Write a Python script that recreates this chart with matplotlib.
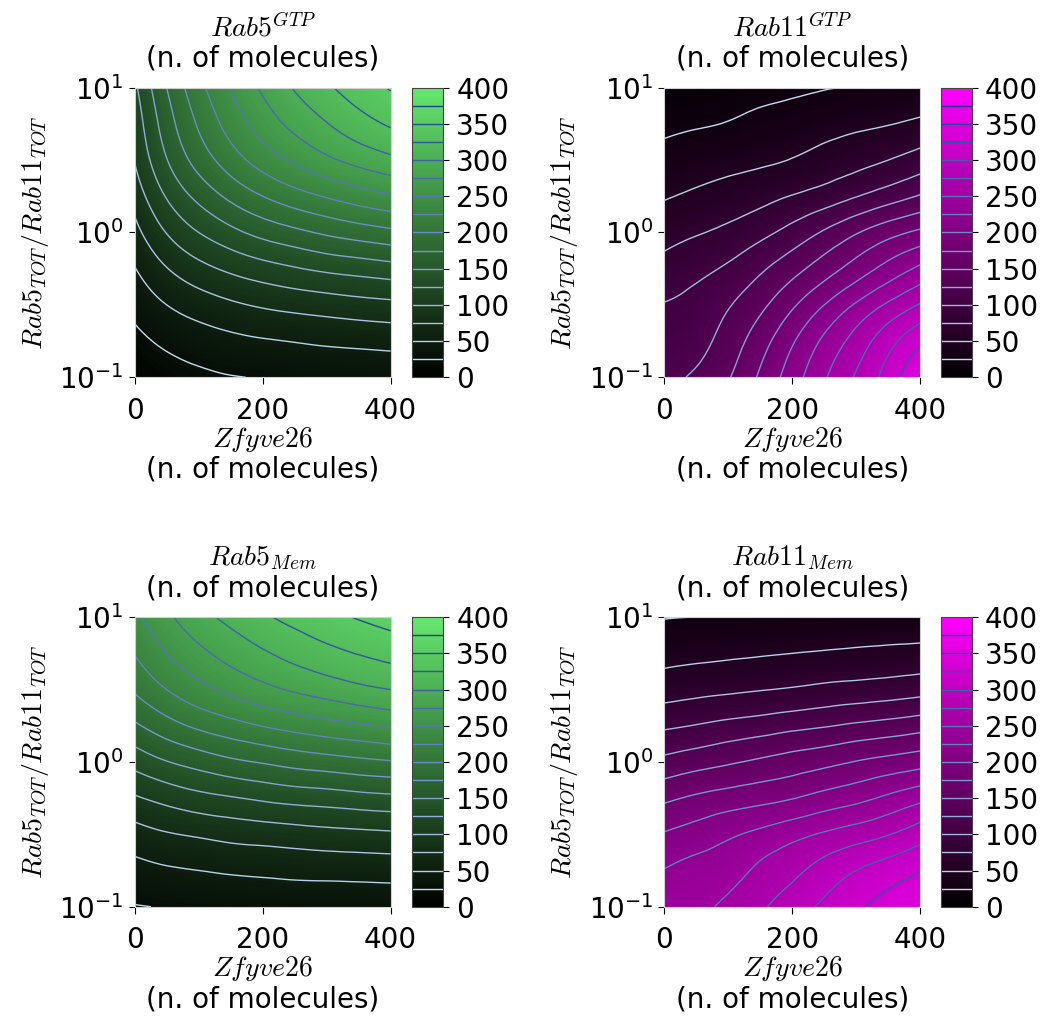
import numpy as np
import matplotlib
matplotlib.use("Agg")
import matplotlib.pyplot as plt
import matplotlib.tri as mtri
from matplotlib.cm import ScalarMappable
from matplotlib.colors import LinearSegmentedColormap, Normalize

plt.rcParams["mathtext.fontset"] = "cm"
plt.rcParams["font.size"] = 20

# grid: columns = Zfyve26, rows = Rab5_TOT/Rab11_TOT (bottom -> top)
zfyve26 = [0, 50, 100, 150, 200, 250, 300, 350, 400]
ratio = [0.1, 0.178, 0.316, 0.562, 1.0, 1.78, 3.16, 5.62, 10.0]

rab5_gtp = [
    [5, 14, 20, 24, 26, 29, 30, 32, 33],
    [18, 30, 38, 44, 48, 51, 54, 56, 58],
    [33, 50, 62, 71, 78, 83, 87, 91, 94],
    [49, 74, 92, 105, 115, 123, 130, 135, 140],
    [67, 101, 125, 143, 158, 169, 179, 187, 194],
    [85, 127, 157, 181, 200, 215, 227, 238, 247],
    [101, 149, 185, 213, 236, 254, 270, 283, 294],
    [110, 163, 203, 235, 261, 282, 299, 315, 328],
    [120, 175, 217, 251, 279, 302, 321, 338, 352],
]
rab11_gtp = [
    [118, 129, 148, 179, 213, 247, 278, 311, 352],
    [109, 117, 136, 164, 197, 230, 260, 291, 320],
    [101, 108, 123, 144, 171, 200, 228, 254, 277],
    [84, 93, 104, 121, 141, 163, 186, 209, 230],
    [66, 73, 81, 93, 109, 128, 148, 166, 180],
    [48, 54, 60, 67, 76, 86, 99, 113, 127],
    [33, 38, 42, 46, 51, 59, 67, 75, 86],
    [20, 23, 26, 31, 35, 40, 45, 49, 55],
    [10, 13, 16, 18, 21, 24, 26, 28, 30],
]
rab5_mem = [
    [24, 26, 28, 29, 30, 31, 32, 32, 33],
    [42, 47, 50, 53, 55, 57, 58, 59, 60],
    [65, 73, 78, 83, 86, 89, 92, 94, 96],
    [97, 108, 117, 123, 129, 134, 137, 141, 144],
    [134, 149, 160, 170, 177, 184, 189, 194, 198],
    [171, 190, 205, 216, 226, 234, 241, 247, 253],
    [203, 225, 242, 256, 268, 278, 286, 294, 300],
    [226, 250, 269, 284, 297, 308, 318, 326, 333],
    [245, 270, 291, 307, 321, 333, 343, 352, 360],
]
rab11_mem = [
    [245, 246, 255, 271, 288, 305, 321, 334, 346],
    [226, 234, 241, 255, 269, 285, 300, 312, 324],
    [202, 211, 221, 231, 242, 253, 263, 274, 289],
    [170, 179, 186, 192, 199, 209, 218, 230, 243],
    [132, 140, 147, 154, 161, 168, 176, 183, 190],
    [96, 101, 107, 112, 118, 123, 129, 134, 140],
    [64, 68, 71, 74, 77, 81, 84, 87, 91],
    [42, 44, 46, 48, 50, 52, 54, 56, 58],
    [24, 25, 25, 26, 26, 27, 28, 28, 29],
]

titles = [r"$Rab5^{GTP}$", r"$Rab11^{GTP}$", r"$Rab5_{Mem}$", r"$Rab11_{Mem}$"]
line_levels = np.arange(25, 400, 25)

GREEN = LinearSegmentedColormap.from_list("green", ["#000000", "#66e870"])
MAGENTA = LinearSegmentedColormap.from_list("magenta", ["#000000", "#ff00ff"])
LINES = LinearSegmentedColormap.from_list("lines", ["#c6dcef", "#6a8cc6", "#1d3f8f"])


def grid_triangulation(xs, ts):
    xx, tt = np.meshgrid(xs, ts)
    nx = len(xs)
    tris = []
    for i in range(len(ts) - 1):
        for j in range(nx - 1):
            k = i * nx + j
            tris.append([k, k + 1, k + nx])
            tris.append([k + 1, k + nx + 1, k + nx])
    return mtri.Triangulation(xx.ravel(), tt.ravel(), np.array(tris))


def panel(fig, rect, crect, data, cmap, title):
    ax = fig.add_axes(rect)
    cax = fig.add_axes(crect)

    # smooth the coarse grid in (x, log10 ratio) space, then draw on the log axis
    xs = np.array(zfyve26, float) / 200
    ts = np.log10(ratio)
    z = np.array(data, float).ravel()
    tri = grid_triangulation(xs, ts)
    interp = mtri.CubicTriInterpolator(tri, z, kind="min_E")
    tri_r, z_r = mtri.UniformTriRefiner(tri).refine_field(z, triinterpolator=interp, subdiv=3)
    tri_p = mtri.Triangulation(tri_r.x * 200, 10 ** tri_r.y, tri_r.triangles)

    ax.set_yscale("log")
    norm = Normalize(0, 400)
    ax.tricontourf(tri_p, z_r, levels=np.linspace(0, 400, 161), cmap=cmap, norm=norm,
                   extend="both", antialiased=False)
    cs = ax.tricontour(tri_p, z_r, levels=line_levels, cmap=LINES, norm=Normalize(25, 375),
                       linewidths=1.0)
    ax.set_xlim(0, 400)
    ax.set_ylim(0.1, 10)
    ax.set_xticks([0, 200, 400])
    ax.minorticks_off()
    ax.tick_params(axis="x", length=5, pad=9)
    ax.tick_params(axis="y", length=4, pad=4)
    for s in ax.spines.values():
        s.set_color("#d0d0d0")
    ax.set_title(title + "\n(n. of molecules)", fontsize=20, pad=15, linespacing=1.1)
    ax.set_xlabel(r"$Zfyve26$" + "\n(n. of molecules)", fontsize=20, labelpad=0, linespacing=1.1)
    ax.set_ylabel(r"$Rab5_{TOT}/Rab11_{TOT}$", fontsize=20, labelpad=6)

    cb = fig.colorbar(ScalarMappable(norm=norm, cmap=cmap), cax=cax, ticks=np.arange(0, 401, 50))
    cb.add_lines(cs)
    cb.outline.set_edgecolor("#444444")
    cb.ax.tick_params(length=4.5, pad=5)


def main():
    fig = plt.figure(figsize=(10.49, 10.18), dpi=100)
    w, h, cw = 0.244, 0.2845, 0.0295
    spots = [(0.1284, 0.6294, 0.3928), (0.6333, 0.6294, 0.8968),
             (0.1284, 0.1093, 0.3928), (0.6333, 0.1093, 0.8968)]
    grids = [rab5_gtp, rab11_gtp, rab5_mem, rab11_mem]
    cmaps = [GREEN, MAGENTA, GREEN, MAGENTA]
    for (l, b, cl), data, cmap, title in zip(spots, grids, cmaps, titles):
        panel(fig, [l, b, w, h], [cl, b, cw, h], data, cmap, title)
    fig.savefig("out.png", dpi=100)


if __name__ == "__main__":
    main()
